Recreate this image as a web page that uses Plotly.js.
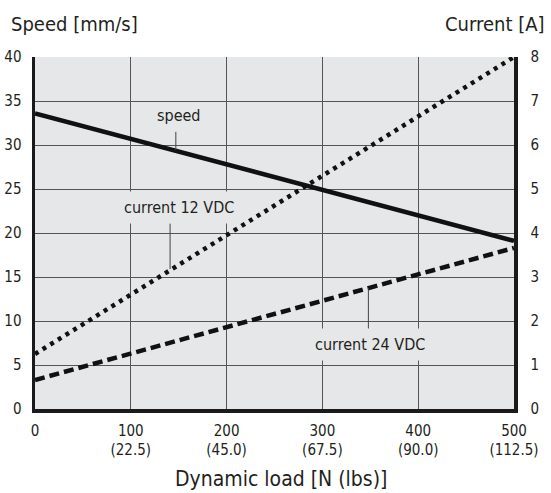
<!DOCTYPE html>
<html>
<head>
<meta charset="utf-8">
<script src="https://cdn.plot.ly/plotly-3.0.1.min.js"></script>
<style>html,body{margin:0;padding:0;background:#fff;}#chart{width:551px;height:493px;}</style>
</head>
<body>
<div id="chart"></div>
<script>
// Data
var load = [0, 500];                 // Dynamic load [N]
var speed = [33.6, 19.1];            // Speed [mm/s]
var current12 = [1.25, 8.0];         // Current 12 VDC [A]
var current24 = [0.66, 3.66];        // Current 24 VDC [A]
var xTickVals = [0, 100, 200, 300, 400, 500];
var xTickText = ['0', '100<br>(22.5)', '200<br>(45.0)', '300<br>(67.5)', '400<br>(90.0)', '500<br>(112.5)'];

var FONT = '"DejaVu Sans Condensed", "Liberation Sans Narrow", Arial, sans-serif';
var TXT = '#231f20';
var BG = '#e6e7e8';

var traces = [
  {x: load, y: speed, yaxis: 'y', mode: 'lines', line: {color: '#111', width: 4.5}, name: 'speed'},
  {x: load, y: current12, yaxis: 'y2', mode: 'lines', line: {color: '#111', width: 4.5, dash: '4px,5px'}, name: 'current 12 VDC'},
  {x: load, y: current24, yaxis: 'y2', mode: 'lines', line: {color: '#111', width: 4.5, dash: '10px,5px'}, name: 'current 24 VDC'}
];

var lbl = function(text, x, y, pad) {
  return {text: text, x: x, y: y, xref: 'x', yref: 'y', showarrow: false,
    font: {family: FONT, size: 16, color: TXT}, bgcolor: BG, borderpad: pad, xanchor: 'center', yanchor: 'middle'};
};

var layout = {
  width: 551, height: 493,
  margin: {l: 35, r: 37, t: 57, b: 84},
  paper_bgcolor: '#fff', plot_bgcolor: BG,
  showlegend: false,
  font: {family: FONT, color: TXT, size: 15},
  xaxis: {range: [0, 500], tickvals: xTickVals, ticktext: xTickText, showgrid: true, gridcolor: '#555', gridwidth: 1,
    zeroline: false, showline: true, linewidth: 3.5, linecolor: '#1a1a1a', ticks: '', ticklabelstandoff: 5,
    tickfont: {family: FONT, size: 15, color: TXT}, fixedrange: true},
  yaxis: {range: [0, 40], dtick: 5, tick0: 0, showgrid: true, gridcolor: '#555', gridwidth: 1, zeroline: false,
    showline: true, linewidth: 3.5, linecolor: '#1a1a1a', ticks: '', ticklabelstandoff: 7,
    tickfont: {family: FONT, size: 15, color: TXT}},
  yaxis2: {range: [0, 8], dtick: 1, tick0: 0, overlaying: 'y', side: 'right', showgrid: false, zeroline: false,
    showline: true, linewidth: 3.5, linecolor: '#1a1a1a', ticks: '', ticklabelstandoff: 10,
    tickfont: {family: FONT, size: 15, color: TXT}},
  shapes: [
    {type: 'line', xref: 'x', yref: 'y', x0: 147, x1: 147, y0: 31.5, y1: 29.4, line: {color: '#444', width: 1}},
    {type: 'line', xref: 'x', yref: 'y', x0: 141, x1: 141, y0: 21.1, y1: 15.9, line: {color: '#444', width: 1}},
    {type: 'line', xref: 'x', yref: 'y', x0: 348, x1: 348, y0: 8.6, y1: 13.75, line: {color: '#444', width: 1}}
  ],
  annotations: [
    lbl('speed', 150, 33.4, 1),
    lbl('current 12 VDC', 150, 22.95, 6),
    lbl('current 24 VDC', 350, 7.3, 6),
    {text: 'Speed [mm/s]', xref: 'paper', yref: 'paper', x: -0.054, y: 1.094, xanchor: 'left', yanchor: 'middle',
      showarrow: false, font: {family: FONT, size: 20, color: TXT}},
    {text: 'Current [A]', xref: 'paper', yref: 'paper', x: 1.069, y: 1.094, xanchor: 'right', yanchor: 'middle',
      showarrow: false, font: {family: FONT, size: 20, color: TXT}},
    {text: 'Dynamic load [N (lbs)]', xref: 'paper', yref: 'paper', x: 0.513, y: -0.2, xanchor: 'center', yanchor: 'middle',
      showarrow: false, font: {family: FONT, size: 21, color: TXT}}
  ]
};

Plotly.newPlot('chart', traces, layout, {staticPlot: true, displayModeBar: false});
</script>
</body>
</html>
